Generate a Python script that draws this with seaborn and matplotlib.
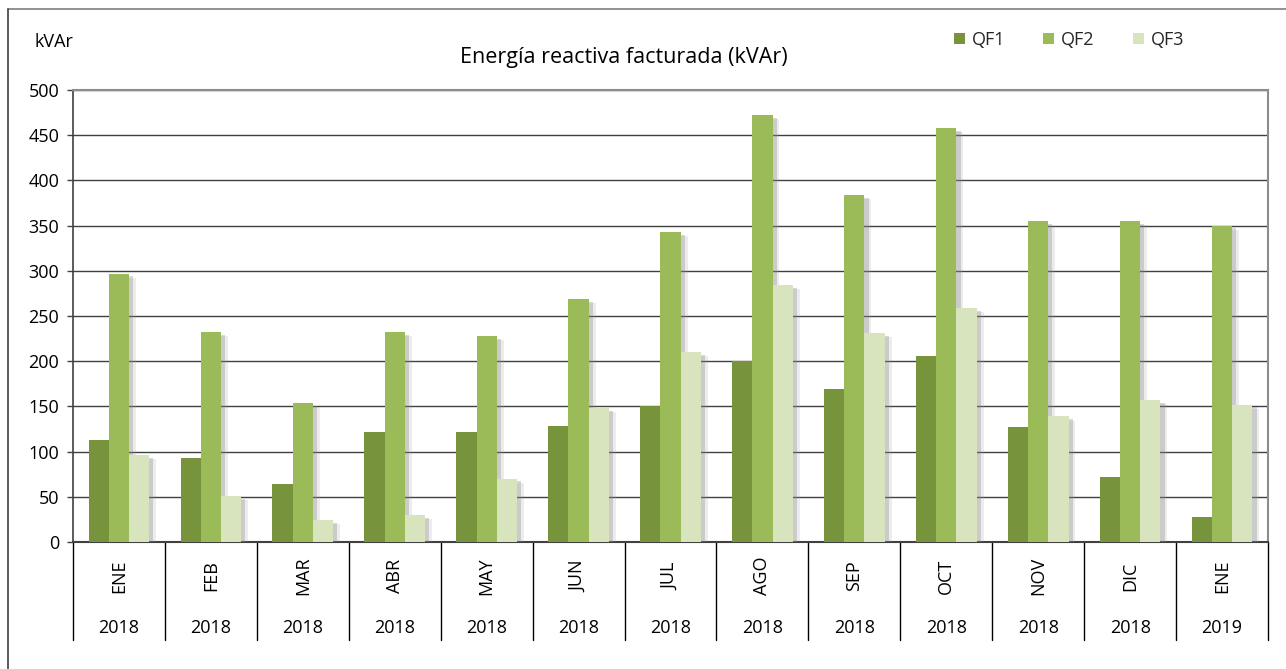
import matplotlib
matplotlib.use("Agg")
import matplotlib.pyplot as plt
import matplotlib.patheffects as pe
from matplotlib.lines import Line2D
from matplotlib.patches import Patch
import seaborn as sns
import pandas as pd

months = ["ENE", "FEB", "MAR", "ABR", "MAY", "JUN", "JUL", "AGO", "SEP", "OCT", "NOV", "DIC", "ENE"]
years = ["2018"] * 12 + ["2019"]
qf1 = [113, 93, 64, 122, 122, 128, 150, 200, 169, 206, 127, 72, 28]
qf2 = [297, 232, 154, 232, 228, 269, 343, 472, 384, 458, 355, 355, 350]
qf3 = [96, 51, 24, 30, 70, 148, 210, 284, 231, 259, 139, 157, 152]
series = ["QF1", "QF2", "QF3"]
colors = ["#77933C", "#9BBB59", "#D7E4BD"]
yticks = [0, 50, 100, 150, 200, 250, 300, 350, 400, 450, 500]

rows = []
for i in range(len(months)):
    for s, vals in zip(series, [qf1, qf2, qf3]):
        rows.append({"cat": i, "serie": s, "valor": vals[i]})
df = pd.DataFrame(rows)

sns.set_theme(style="white")
plt.rcParams["font.family"] = ["Open Sans", "DejaVu Sans"]

W, H = 1286, 669
fig = plt.figure(figsize=(W / 100, H / 100), dpi=100)
L, R, T, B = 73, 1268, 90, 542
ax = fig.add_axes([L / W, 1 - B / H, (R - L) / W, (B - T) / H])

sns.barplot(data=df, x="cat", y="valor", hue="serie", palette=colors,
            width=0.66, saturation=1, ax=ax, legend=False, zorder=3)
for p in ax.patches:
    p.set_edgecolor("none")
    p.set_path_effects([
        pe.SimplePatchShadow(offset=(5, -3), shadow_rgbFace="#9a9a9a", alpha=0.18),
        pe.SimplePatchShadow(offset=(3, -2), shadow_rgbFace="#7f7f7f", alpha=0.30),
        pe.Normal()])

ax.set_ylim(0, 500)
ax.set_xlim(-0.5, len(months) - 0.5)
ax.set_yticks(yticks)
ax.set_yticklabels([str(v) for v in yticks], fontsize=13, color="#000000")
ax.tick_params(axis="y", length=4, width=1, color="#404040", left=True, pad=6)
ax.set_xticks([])
ax.set_xlabel("")
ax.set_ylabel("")
ax.yaxis.grid(True, color="#404040", linewidth=1.0, zorder=0)
ax.set_axisbelow(True)
for side in ["top", "right"]:
    ax.spines[side].set_color("#8c8c8c")
    ax.spines[side].set_linewidth(1.5)
ax.spines["left"].set_color("#404040")
ax.spines["left"].set_linewidth(1.2)
ax.spines["bottom"].set_color("#404040")
ax.spines["bottom"].set_linewidth(1.5)

# category labels below the axis
trans = ax.get_xaxis_transform()
sep_depth = 98 / (B - T)
for i in range(len(months) + 1):
    ax.add_line(Line2D([i - 0.5, i - 0.5], [0, -sep_depth], transform=trans,
                       color="#000000", linewidth=1.0, clip_on=False))
for i, (m, y) in enumerate(zip(months, years)):
    ax.text(i, -34 / (B - T), m, transform=trans, rotation=90, ha="center", va="center",
            fontsize=13, color="#000000")
    ax.text(i, -86 / (B - T), y, transform=trans, ha="center", va="center",
            fontsize=13, color="#000000")

fig.text(624 / W, 1 - 58 / H, "Energía reactiva facturada (kVAr)", ha="center", va="center",
         fontsize=15.5, color="#000000")
fig.text(35 / W, 1 - 42 / H, "kVAr", ha="left", va="center", fontsize=13, color="#000000")

handles = [Patch(facecolor=c, edgecolor="none", label=s) for s, c in zip(series, colors)]
fig.legend(handles=handles, loc="center", bbox_to_anchor=(1069 / W, 1 - 40 / H), ncol=3,
           frameon=False, fontsize=13, handlelength=0.6, handleheight=0.6,
           handletextpad=0.4, columnspacing=2.1)

# outer chart border (top and left visible)
fig.add_artist(Line2D([8 / W, 1.0], [1 - 9 / H, 1 - 9 / H], transform=fig.transFigure,
                      color="#7f7f7f", linewidth=1.2))
fig.add_artist(Line2D([8 / W, 8 / W], [0.0, 1 - 9 / H], transform=fig.transFigure,
                      color="#404040", linewidth=1.2))

fig.savefig("out.png", dpi=100, facecolor="white")
